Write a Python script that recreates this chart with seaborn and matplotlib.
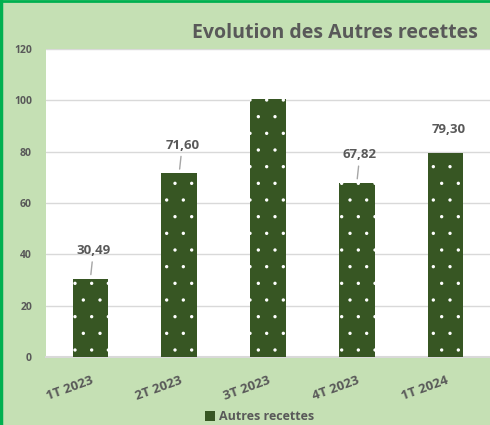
import matplotlib
matplotlib.use("Agg")
import matplotlib.pyplot as plt
import seaborn as sns
import pandas as pd
from matplotlib.patches import Rectangle

categories = ["1T 2023", "2T 2023", "3T 2023", "4T 2023", "1T 2024"]
values = [30.49, 71.60, 100.56, 67.82, 79.30]
labels = ["30,49", "71,60", None, "67,82", "79,30"]
leaders = [True, True, False, True, False]
yticks = [0, 20, 40, 60, 80, 100, 120]
series_name = "Autres recettes"
title = "Evolution des Autres recettes"

sns.set_theme(style="white")
plt.rcParams["font.family"] = ["Open Sans", "DejaVu Sans"]
plt.rcParams["hatch.linewidth"] = 0.0

BG = "#C5E0B4"
BAR = "#375623"
TXT = "#595959"

df = pd.DataFrame({"cat": categories, "val": values})

fig = plt.figure(figsize=(4.9, 4.25), dpi=100, facecolor=BG)
ax = fig.add_axes([46 / 490, 68 / 425, 444 / 490, 308 / 425])
ax.set_facecolor("white")

sns.barplot(data=df, x="cat", y="val", color=BAR, width=0.4, ax=ax,
            saturation=1, edgecolor="white", linewidth=0, hatch=".", zorder=3)
for p in ax.patches:
    p.set_facecolor(BAR)

ax.set_ylim(0, 120)
ax.set_yticks(yticks)
ax.set_yticklabels([str(t) for t in yticks], fontsize=7.5, fontweight="bold", color=TXT)
ax.yaxis.grid(True, color="#D9D9D9", linewidth=1.0, zorder=0)
ax.set_axisbelow(True)
for s in ["top", "right", "left"]:
    ax.spines[s].set_visible(False)
ax.spines["bottom"].set_color("#D9D9D9")
ax.spines["bottom"].set_linewidth(1.5)
ax.tick_params(axis="y", length=0, pad=10)
ax.tick_params(axis="x", length=0, pad=12)
ax.set_xlabel("")
ax.set_ylabel("")
ax.set_xticks(range(len(categories)))
ax.set_xticklabels(categories, rotation=20, ha="right", rotation_mode="anchor",
                   fontsize=9.5, fontweight="bold", color=TXT)

for i, (v, lab, ld) in enumerate(zip(values, labels, leaders)):
    if lab is None:
        continue
    off = 28 if ld else 24
    kw = {}
    if ld:
        kw["arrowprops"] = dict(arrowstyle="-", color="#A6A6A6", lw=1.0,
                                shrinkA=1, shrinkB=3)
    ax.annotate(lab, xy=(i, v), xytext=(3, off), textcoords="offset pixels",
                ha="center", va="center", fontsize=9.5, fontweight="bold",
                color=TXT, zorder=5, **kw)

fig.text(478 / 490, 1 - 33 / 425, title, ha="right", va="center",
         fontsize=14, fontweight="bold", color=TXT)

handle = Rectangle((0, 0), 1, 1, facecolor=BAR, edgecolor="none")
fig.legend([handle], [series_name], loc="center", bbox_to_anchor=(0.53, 1 - 417 / 425),
           frameon=False, handlelength=0.8, handleheight=0.8, handletextpad=0.3,
           prop={"weight": "bold", "size": 9}, labelcolor=TXT)

fig.add_artist(plt.Line2D([0.003, 0.003], [0, 1], color="#00B050", lw=2.5,
                          transform=fig.transFigure))
fig.add_artist(plt.Line2D([0, 1], [0.997, 0.997], color="#00B050", lw=2.0,
                          transform=fig.transFigure))

fig.savefig("out.png", dpi=100, facecolor=BG)
